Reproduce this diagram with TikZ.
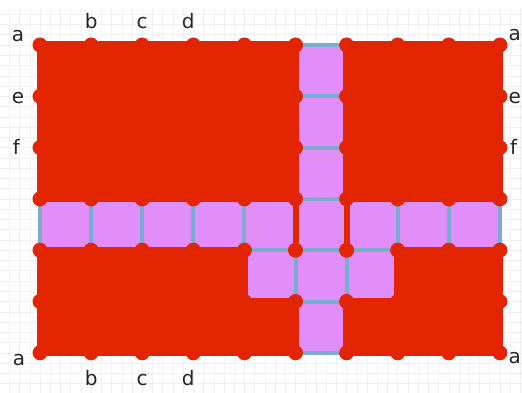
\documentclass[tikz,border=0pt]{standalone}
\usepackage{fontspec}
\setmainfont{DejaVu Sans}
\usetikzlibrary{positioning}
\definecolor{tilered}{RGB}{226,36,0}
\definecolor{tilepink}{RGB}{226,142,250}
\definecolor{tileblue}{RGB}{122,172,208}
\definecolor{papergrid}{RGB}{238,242,246}

\begin{document}
\begin{tikzpicture}[x=51.1pt, y=-51.3pt, line join=round, line cap=round,
    redpart/.style={fill=tilered, draw=tilered, line width=7pt},
    hinge/.style={draw=tilered, line width=6pt},
    seam/.style={draw=tileblue, line width=4pt},
    edgelabel/.style={font=\fontsize{20}{24}\selectfont, anchor=base, text=black!85, inner sep=0pt}]
    \useasboundingbox (-0.7828,-0.8772) rectangle (9.4325,6.7836);
    \clip (-0.7828,-0.8772) rectangle (9.4325,6.7836);

    % faint squared paper behind the board
    \foreach \gx in {-0.6,-0.4,...,9.5} \draw[papergrid, line width=0.5pt] (\gx,-0.72) -- (\gx,6.9);
    \foreach \gy in {-0.6,-0.4,...,6.9} \draw[papergrid, line width=0.5pt] (-0.8,\gy) -- (9.5,\gy);

    % pink ground with blue seams on every grid line
    \fill[tilepink] (0,0) rectangle (9,6);
    \foreach \cx in {0,...,9} \draw[seam] (\cx,0) -- (\cx,6);
    \foreach \cy in {0,...,6} \draw[seam] (0,\cy) -- (9,\cy);

    % red pieces
    \draw[redpart] (0,0) rectangle (5,3);
    \draw[redpart] (6,0) rectangle (9,3);
    \draw[redpart] (0,4) -- (4,4) -- (4,5) -- (5,5) -- (5,6) -- (0,6) -- cycle;
    \draw[redpart] (9,4) -- (7,4) -- (7,5) -- (6,5) -- (6,6) -- (9,6) -- cycle;

    % red hinges across the pink row
    \coordinate (hl1) at (5,3);
    \coordinate (hl2) at (5,4);
    \coordinate (hr1) at (6,3);
    \coordinate (hr2) at (6,4);
    \draw[hinge] (hl1) -- (hl2);
    \draw[hinge] (hr1) -- (hr2);

    % joints on the outlines
    \foreach \cy in {0,3,4,6} {\foreach \cx in {0,...,9} {\fill[tilered] (\cx,\cy) circle (7.5pt);}}
    \foreach \cy in {1,2} {\foreach \cx in {0,5,6,9} {\fill[tilered] (\cx,\cy) circle (7.5pt);}}
    \foreach \cx in {0,4,5,6,7,9} {\fill[tilered] (\cx,5) circle (7.5pt);}

    % edge letters
    \node[edgelabel] (la1) at (-0.43,-0.07) {a};
    \node[edgelabel] (lb1) at (1.0,-0.33) {b};
    \node[edgelabel] (lc1) at (2.0,-0.33) {c};
    \node[edgelabel] (ld1) at (2.9,-0.33) {d};
    \node[edgelabel] (le1) at (-0.43,1.15) {e};
    \node[edgelabel] (lf1) at (-0.46,2.14) {f};
    \node[edgelabel] (la2) at (9.29,-0.09) {a};
    \node[edgelabel] (le2) at (9.29,1.15) {e};
    \node[edgelabel] (lf2) at (9.27,2.14) {f};
    \node[edgelabel] (la3) at (-0.41,6.24) {a};
    \node[edgelabel] (la4) at (9.29,6.21) {a};
    \node[edgelabel] (lb2) at (1.0,6.64) {b};
    \node[edgelabel] (lc2) at (2.0,6.64) {c};
    \node[edgelabel] (ld2) at (2.9,6.64) {d};
\end{tikzpicture}
\end{document}
